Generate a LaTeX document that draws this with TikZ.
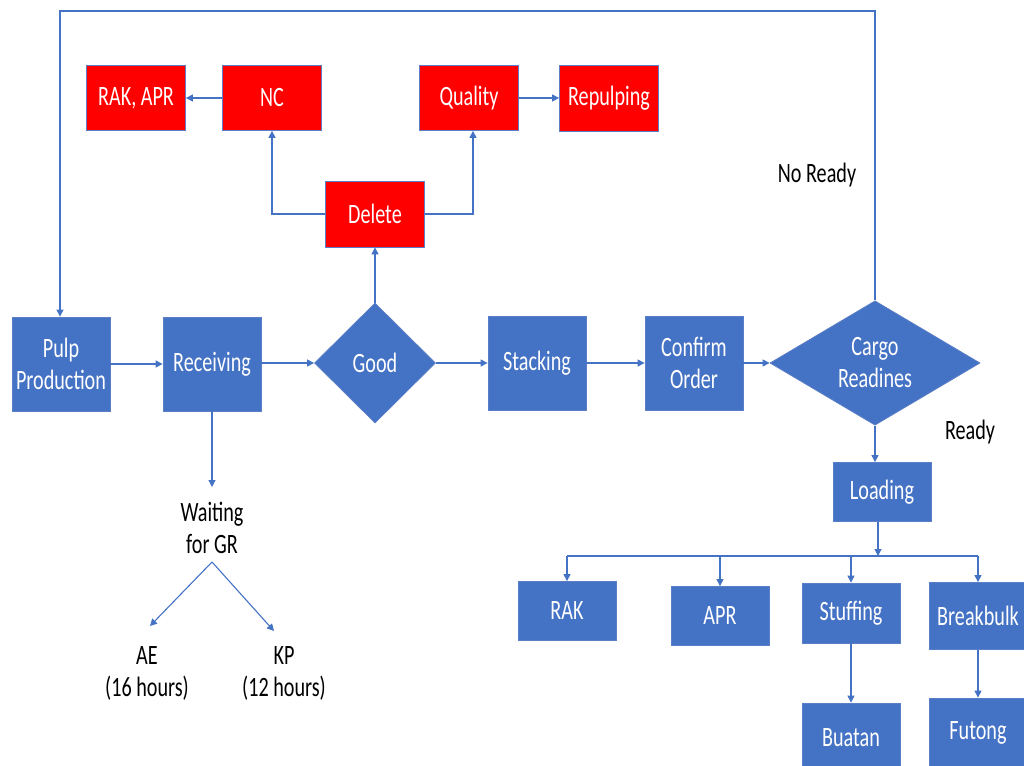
\documentclass[tikz,border=0pt]{standalone}
\usepackage{fontspec}
\setmainfont{Carlito}
\newfontfamily\calf[FakeStretch=0.72]{Carlito}
\usetikzlibrary{shapes.geometric,arrows.meta}
\definecolor{bl}{HTML}{4472C4}
\definecolor{edge}{HTML}{5B7FC6}
\definecolor{rd}{HTML}{FF0000}
\begin{document}
\begin{tikzpicture}[x=1pt,y=-1pt,
  txt/.style={font=\calf\fontsize{28}{32}\selectfont,align=center,inner sep=0pt},
  bbox/.style={txt,rectangle,fill=bl,draw=edge,line width=0.8pt,text=white},
  rbox/.style={txt,rectangle,fill=rd,draw=edge,line width=0.8pt,text=white,minimum width=99pt,minimum height=65pt},
  dbox/.style={txt,diamond,fill=bl,draw=edge,line width=0.8pt,text=white},
  lbl/.style={txt,text=black},
  conn/.style={draw=bl,line width=1.1pt},
  arr/.style={conn,-{Triangle[width=7pt,length=7pt]}}]
\useasboundingbox (0,0) rectangle (1024,765);
\clip (0,0) rectangle (1024,765);
\fill[white] (0,0) rectangle (1024,765);
% main row
\node[bbox,minimum width=98pt,minimum height=94pt] (pulp) at (61,364) {Pulp\\Production};
\node[bbox,minimum width=98pt,minimum height=94pt] (recv) at (212,364) {Receiving};
\node[dbox,minimum width=121pt,minimum height=120pt] (good) at (375,363) {Good};
\node[bbox,minimum width=98pt,minimum height=94pt] (stack) at (537,363) {Stacking};
\node[bbox,minimum width=98pt,minimum height=94pt] (conf) at (694,363) {Confirm\\Order};
\node[dbox,minimum width=210pt,minimum height=120pt] (cargo) at (875,363) {Cargo\\Readines};
% red boxes
\node[rbox] (rakapr) at (136,98) {RAK, APR};
\node[rbox] (nc) at (272,98) {NC};
\node[rbox] (qual) at (469,98) {Quality};
\node[rbox,minimum height=66pt] (repulp) at (609,98) {Repulping};
\node[rbox,minimum height=66pt] (del) at (375,214) {Delete};
% loading and destinations
\node[bbox,minimum width=98pt,minimum height=59pt] (load) at (882,492) {Loading};
\node[bbox,minimum width=98pt,minimum height=59pt] (rak) at (567,611) {RAK};
\node[bbox,minimum width=98pt,minimum height=59pt] (apr) at (720,616) {APR};
\node[bbox,minimum width=98pt,minimum height=60pt] (stuff) at (851,613) {Stuffing};
\node[bbox,minimum width=98pt,minimum height=67pt] (brk) at (978,616) {Breakbulk};
\node[bbox,minimum width=98pt,minimum height=70pt] (buatan) at (851,738) {Buatan};
\node[bbox,minimum width=98pt,minimum height=70pt] (futong) at (978,733) {Futong};
% labels
\node[lbl] (noready) at (817,175) {No Ready};
\node[lbl] (ready) at (970,432) {Ready};
\node[lbl] (wait) at (212,528) {Waiting\\for GR};
\node[lbl] (ae) at (147,673) {AE\\(16 hours)};
\node[lbl] (kp) at (284,673) {KP\\(12 hours)};
% coordinates
\coordinate (topR) at (875,11);
\coordinate (topL) at (60,11);
\coordinate (bus) at (878,556);
\coordinate (wtip) at (212,487);
\coordinate (wsplit) at (212,562);
\coordinate (aeTip) at (150,626);
\coordinate (kpTip) at (274,631);
% connectors main row
\draw[arr] (pulp.east) -- (recv.west);
\draw[arr] (recv.east |- good.west) -- (good.west);
\draw[arr] (good.east) -- (stack.west);
\draw[arr] (stack.east) -- (conf.west);
\draw[arr] (conf.east) -- (cargo.west);
% feedback loop
\draw[arr] (cargo.north) -- (topR) -- (topL) -- (topL |- pulp.north);
% red branch
\draw[arr] (good.north) -- (del.south);
\draw[arr] (del.west) -| (nc.south);
\draw[arr] (del.east) -| ([xshift=4pt]qual.south);
\draw[arr] (nc.west) -- (rakapr.east);
\draw[arr] (qual.east) -- (repulp.west);
% waiting
\draw[arr] (recv.south) -- (wtip);
\draw[arr] (wsplit) -- (aeTip);
\draw[arr] (wsplit) -- (kpTip);
% loading
\draw[arr] (cargo.south) -- (cargo.south |- load.north);
\draw[arr] (bus |- load.south) -- (bus);
\draw[conn] (rak.north |- bus) -- (brk.north |- bus);
\draw[arr] (rak.north |- bus) -- (rak.north);
\draw[arr] (apr.north |- bus) -- (apr.north);
\draw[arr] (stuff.north |- bus) -- (stuff.north);
\draw[arr] (brk.north |- bus) -- (brk.north);
\draw[arr] (stuff.south) -- (buatan.north);
\draw[arr] (brk.south) -- (futong.north);
\end{tikzpicture}
\end{document}
